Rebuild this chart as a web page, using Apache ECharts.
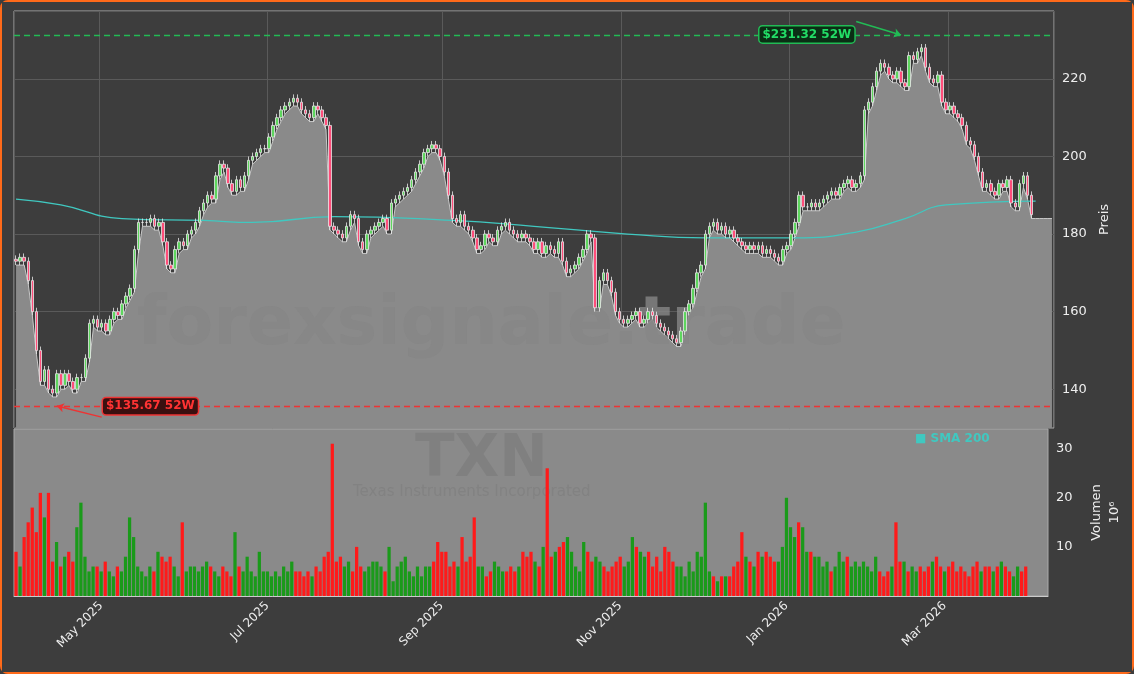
<!DOCTYPE html>
<html><head><meta charset="utf-8">
<script src="https://cdn.jsdelivr.net/npm/echarts@6/dist/echarts.min.js"></script>
<style>html,body{margin:0;padding:0;background:#3d3d3d}#c{width:1134px;height:674px;box-sizing:border-box;border:2px solid #ff6a1a;border-radius:8px}</style>
</head><body><div id="c"></div>
<script>
const closes=[173,174,173,168,160, 150,142,145,140,139,144, 141,144,142,140,143,143,148, 157,158,156,157,155,
158,160,159,162,164,166, 176,183,183, 183,184,182,183,178, 172,171, 176,178,177,180,181,183, 186,188,190,189,
195,198,197, 193,191,194,192,195, 199,200,201,202,202,205, 208,210,212,213,214,215,214, 212,211,210,213,212,210,208,
182,181,180, 179,182,185,184,178,176, 180,181,182,183,184,181,188,189,190,191,192, 194,196,198,201,202,203,202,200,196,
190,184,183,185,182,181, 179,176,177,180,179,178,181, 182,183,181,180,179,180,179,178,176,178,175,177,176,175,178,
173,170,171,172,174,176,180,179, 161,168,170,168,165,160, 158,157,158,159,160,157,158,160,159, 157,156,155,154,153,152,155,
160,162,166,170,172, 180,182,183,181,182, 180,181,179,178,177,176,177,176,177,175, 176,175,174,173,176,177,180,183,190,187,
187,188,187,188,189,190,191, 190,192,193,194,192,193,195, 212,214,218,222, 224,223,221,220,222,219,218,
226,225,227,228,223, 220,219,221,214, 212,213,211,210,208, 204,203,200,196, 192,193,191,190,193,192,194, 188,187,193,195,190,185];
const volumes=[9,6,12,15,18,13,21,16,21,7,11,6,8,9,7,14,19,8,5,6,6,5,7,5,4,6,5,8,16,12,6,5,4,6,5,9,8,7,8,6,4,15,5,6,6,5,6,7,6,5,
4,6,5,4,13,6,5,8,5,4,9,5,5,4,5,4,6,5,7,5,5,4,5,4,6,5,8,9,31,7,8,6,7,5,10,6,5,6,7,7,6,5,10,3,6,7,8,5,4,6,
4,6,6,7,11,9,9,6,7,6,12,7,8,16,6,6,4,5,7,6,5,5,6,5,6,9,8,9,7,6,10,26,8,9,10,11,12,9,6,5,11,9,7,8,7,6,5,6,7,8,
6,7,12,10,9,8,9,6,8,5,10,9,7,6,6,4,7,5,9,8,19,5,4,3,4,4,4,6,7,13,8,7,6,9,8,9,8,7,7,10,20,14,12,15,14,9,9,8,8,6,
7,5,6,9,7,8,6,7,6,7,6,5,8,5,4,5,6,15,7,7,5,6,5,6,5,6,7,8,6,5,6,7,5,6,5,4,6,7,5,6,6,5,6,7,6,5,4,6,5,6];
const smaIdx=[0,11,26,46,58,78,107,127,150,169,191,206,218,228,250];
const smaVal=[189,187.5,184,183.5,183,184.5,183.5,182,180,179,179,180.5,184,187.5,188.5];
const high52=231.32, low52=135.67, high52Idx=217, low52Idx=10;
const priceTicks=[140,160,180,200,220];
const volTicks=[10,20,30];

const holidays=['2025-04-18','2025-05-26','2025-06-19','2025-07-04','2025-09-01','2025-11-27','2025-12-25','2026-01-01','2026-01-19','2026-02-16'];
const dates=[];let d=new Date(Date.UTC(2025,3,1));
while(dates.length<closes.length+5){const wd=d.getUTCDay();const s=d.toISOString().slice(0,10);if(wd!==0&&wd!==6&&!holidays.includes(s))dates.push(s);d=new Date(d.getTime()+86400000);}
const n=closes.length;
const ohlc=[],lows=[],vol=[];
for(let i=0;i<n;i++){const o=i?closes[i-1]:closes[0]+0.5,c=closes[i];const hi=Math.max(o,c)+1,lo=Math.min(o,c)-1;ohlc.push([o,c,lo,hi]);lows.push(lo);
 vol.push({value:volumes[i],itemStyle:{color:c>=o?'#1a9a1a':'#ff1a1a'}});}
for(let i=0;i<5;i++){lows.push(lows[n-1]);}
const sma=new Array(dates.length).fill(null);smaIdx.forEach((k,j)=>sma[k]=smaVal[j]);
const mNames=['Jan','Feb','Mar','Apr','May','Jun','Jul','Aug','Sep','Oct','Nov','Dec'];
function isTick(i){if(i===0)return true;const m=+dates[i].slice(5,7),pm=+dates[i-1].slice(5,7);return m!==pm&&m%2===1;}
const chart=echarts.init(document.getElementById('c'));
chart.setOption({
 backgroundColor:'#3d3d3d',animation:false,
 grid:[{left:12,right:78,top:9,height:417,backgroundColor:'#3d3d3d',show:true,borderColor:'#aaa'},
       {left:12,right:78,top:427,height:167,backgroundColor:'#8a8a8a',show:true,borderColor:'#aaa'}],
 xAxis:[{type:'category',data:dates,gridIndex:0,boundaryGap:true,axisLabel:{show:false},axisTick:{show:false},axisLine:{show:false},
   splitLine:{show:true,interval:isTick,lineStyle:{color:'#5a5a5a'}}},
  {type:'category',data:dates,gridIndex:1,boundaryGap:true,axisLine:{lineStyle:{color:'#ccc'}},
   axisTick:{interval:isTick,alignWithLabel:true,lineStyle:{color:'#ccc'}},
   axisLabel:{interval:isTick,rotate:45,color:'#eee',fontSize:12,fontFamily:'DejaVu Sans',formatter:(v,i)=>i===0?'':mNames[+v.slice(5,7)-1]+' '+v.slice(0,4)},
   splitLine:{show:false}}],
 yAxis:[{type:'value',gridIndex:0,position:'right',min:130,max:237.5,interval:10,
   axisLabel:{color:'#eee',fontSize:13,fontFamily:'DejaVu Sans',formatter:v=>priceTicks.includes(v)?v:''},
   axisTick:{show:false},axisLine:{show:false},
   splitLine:{lineStyle:{color:['transparent','#5a5a5a']}},
   name:'Preis',nameLocation:'middle',nameRotate:90,nameGap:42,nameTextStyle:{color:'#eee',fontSize:13,fontFamily:'DejaVu Sans'}},
  {type:'value',gridIndex:1,position:'right',min:0,max:34,interval:10,
   axisLabel:{color:'#eee',fontSize:13,fontFamily:'DejaVu Sans',formatter:v=>volTicks.includes(v)?v:''},
   axisTick:{show:false},axisLine:{show:false},splitLine:{show:false},
   name:'Volumen\n10⁶',nameLocation:'middle',nameRotate:90,nameGap:40,nameTextStyle:{color:'#eee',fontSize:13,fontFamily:'DejaVu Sans',lineHeight:18}}],
 series:[
  {type:'line',data:lows,xAxisIndex:0,yAxisIndex:0,symbol:'none',lineStyle:{color:'#c8c8c8',width:1},areaStyle:{color:'#8a8a8a',opacity:1,origin:'start'},z:1},
  {type:'line',data:sma,xAxisIndex:0,yAxisIndex:0,symbol:'none',connectNulls:true,smooth:0.5,lineStyle:{color:'#40c8c0',width:1.3},z:3},
  {type:'candlestick',data:ohlc,xAxisIndex:0,yAxisIndex:0,barWidth:3,z:4,
   itemStyle:{color:'#5ed65e',color0:'#ff4d7a',borderColor:'#e8e8e8',borderColor0:'#e8e8e8',borderWidth:0.8},
   markLine:{silent:true,symbol:'none',animation:false,data:[
     {yAxis:high52,lineStyle:{color:'#22bb55',type:[6,4],width:1.3},label:{show:false}},
     {yAxis:low52,lineStyle:{color:'#ee3333',type:[6,4],width:1.3},label:{show:false}},
     [{coord:[206,234.8],symbol:'none',lineStyle:{color:'#22bb55',width:1.5,type:'solid'},
       label:{show:true,position:'start',formatter:'$231.32 52W',color:'#22dd66',fontWeight:'bold',fontSize:12,fontFamily:'DejaVu Sans',backgroundColor:'#0b2e15',borderColor:'#22bb55',borderWidth:1.5,borderRadius:3,padding:[2,3],distance:-45,offset:[-45,0]}},
      {coord:[high52Idx,high52],symbol:'arrow',symbolSize:7}],
     [{coord:[21,132.8],symbol:'none',lineStyle:{color:'#ee3333',width:1.5,type:'solid'},
       label:{show:true,position:'start',formatter:'$135.67 52W',color:'#ff3333',fontWeight:'bold',fontSize:12,fontFamily:'DejaVu Sans',backgroundColor:'#3a1010',borderColor:'#ee3333',borderWidth:1.5,borderRadius:3,padding:[2,3],distance:-45,offset:[45,0]}},
      {coord:[low52Idx,low52],symbol:'arrow',symbolSize:7}]
   ]}},
  {type:'bar',data:vol,xAxisIndex:1,yAxisIndex:1,barWidth:'80%',z:3}
 ],
 graphic:[
  {type:'text',left:135,top:290,z:2,silent:true,style:{text:'forexsignale.trade',font:'bold 68px "DejaVu Sans"',fill:'#868686',opacity:0.8}},
  {type:'text',left:413,top:430,z:2,silent:true,style:{text:'TXN',font:'bold 58px "DejaVu Sans"',fill:'#808080'}},
  {type:'text',left:351,top:483,z:2,silent:true,style:{text:'Texas Instruments Incorporated',font:'15px "DejaVu Sans"',fill:'#828282'}},
  {type:'text',left:913,top:431,z:5,style:{text:'■ SMA 200',font:'bold 12px "DejaVu Sans"',fill:'#40c8c0'}}
 ]
});
</script></body></html>
